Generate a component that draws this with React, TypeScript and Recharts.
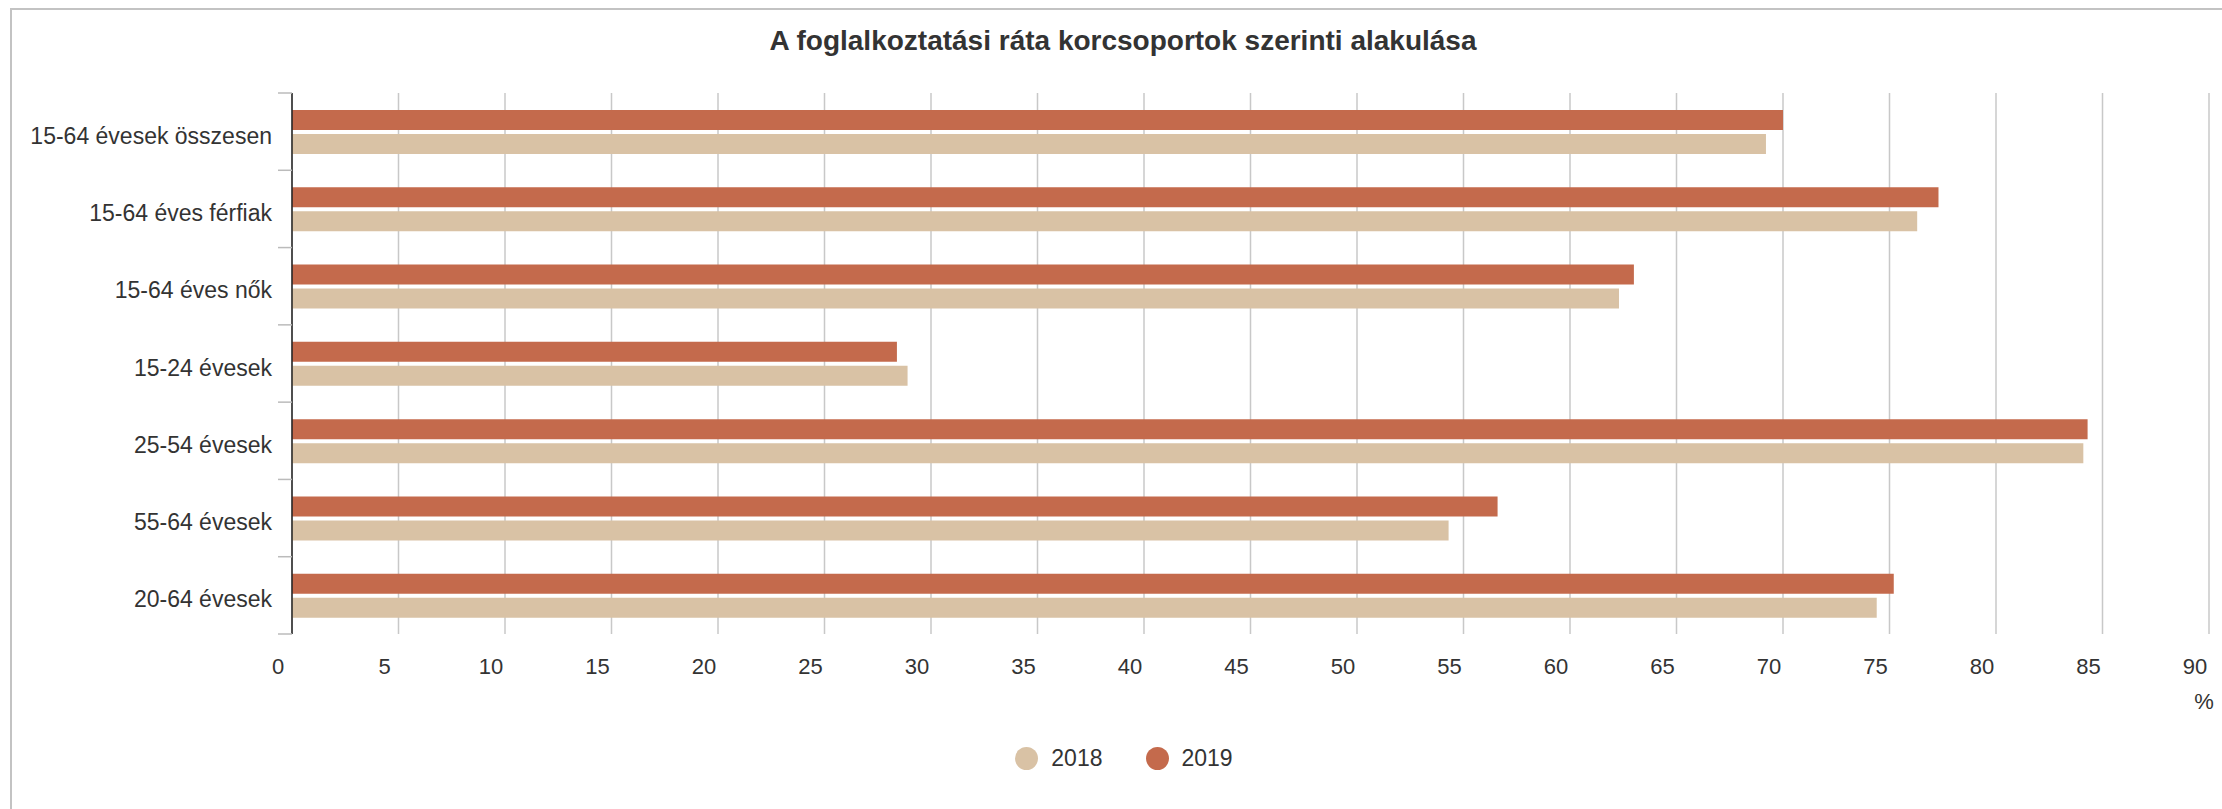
import { BarChart, Bar, XAxis, YAxis, CartesianGrid, Legend } from "recharts";

const categories = [
  "15-64 évesek összesen",
  "15-64 éves férfiak",
  "15-64 éves nők",
  "15-24 évesek",
  "25-54 évesek",
  "55-64 évesek",
  "20-64 évesek",
];
const values2018 = [69.2, 76.3, 62.3, 28.9, 84.1, 54.3, 74.4];
const values2019 = [70.0, 77.3, 63.0, 28.4, 84.3, 56.6, 75.2];
const xTicks = [0, 5, 10, 15, 20, 25, 30, 35, 40, 45, 50, 55, 60, 65, 70, 75, 80, 85, 90];

const title = "A foglalkoztatási ráta korcsoportok szerinti alakulása";
const unit = "%";

const data = categories.map((name, i) => ({
  name,
  y2018: values2018[i],
  y2019: values2019[i],
}));

const W = 2222;
const H = 809;
const MARGIN = { top: 93, right: 13, left: 0, bottom: 36 };
const Y_AXIS_W = 292;
const X_AXIS_H = 109;
const LEGEND_H = 30;
const PLOT_H = H - MARGIN.top - MARGIN.bottom - X_AXIS_H - LEGEND_H;
const BAND = PLOT_H / categories.length;

const TEXT = "#333";
const FONT = "'Liberation Sans', Arial, sans-serif";

function YTick(props: any) {
  const { x, y, payload, index } = props;
  const axisX = x + 20;
  return (
    <g>
      <line x1={axisX - 14} x2={axisX} y1={y - BAND / 2} y2={y - BAND / 2} stroke="#bbb" strokeWidth={1.5} />
      {index === categories.length - 1 && (
        <line x1={axisX - 14} x2={axisX} y1={y + BAND / 2} y2={y + BAND / 2} stroke="#bbb" strokeWidth={1.5} />
      )}
      <text x={x} y={y} dy={12} textAnchor="end" fill={TEXT} fontSize={23} fontFamily={FONT}>
        {payload.value}
      </text>
    </g>
  );
}

function LegendContent(props: any) {
  const items = [...(props.payload || [])].sort((a: any, b: any) =>
    String(a.value).localeCompare(String(b.value))
  );
  return (
    <div
      style={{
        display: "flex",
        justifyContent: "center",
        alignItems: "center",
        height: LEGEND_H,
        paddingLeft: 26,
        fontSize: 23,
        color: TEXT,
        fontFamily: FONT,
      }}
    >
      {items.map((it: any, i: number) => (
        <div key={it.value} style={{ display: "flex", alignItems: "center", marginRight: i < items.length - 1 ? 43 : 0 }}>
          <span
            style={{ width: 23, height: 23, borderRadius: "50%", background: it.color, display: "inline-block", marginRight: 13 }}
          />
          <span>{it.value}</span>
        </div>
      ))}
    </div>
  );
}

export default function App() {
  return (
    <div style={{ position: "fixed", left: 0, top: 0, width: W, height: H, overflow: "hidden", background: "#fff", fontFamily: FONT }}>
      <div
        style={{
          position: "absolute",
          left: 10,
          top: 8,
          width: W + 50,
          height: H + 50,
          borderTop: "2px solid #c3c3c3",
          borderLeft: "2px solid #c3c3c3",
        }}
      />
      <div
        style={{
          position: "absolute",
          left: 1123,
          top: 27,
          transform: "translateX(-50%)",
          whiteSpace: "nowrap",
          fontSize: 28,
          lineHeight: 1,
          fontWeight: "bold",
          color: TEXT,
        }}
      >
        {title}
      </div>
      <div style={{ position: "absolute", left: 0, top: 0 }}>
        <BarChart width={W} height={H} data={data} layout="vertical" margin={MARGIN} barSize={20} barGap={4}>
          <CartesianGrid horizontal={false} stroke="#c8c8c8" strokeWidth={1.5} />
          <XAxis
            type="number"
            domain={[0, 90]}
            ticks={xTicks}
            interval={0}
            height={X_AXIS_H}
            axisLine={false}
            tickLine={false}
            tickSize={0}
            tickMargin={24}
            tick={{ fill: TEXT, fontSize: 22, fontFamily: FONT, dx: -14 }}
            label={{
              content: (p: any) => {
                const vb = p.viewBox;
                return (
                  <text x={vb.x + vb.width - 5} y={vb.y + 75} textAnchor="middle" fill={TEXT} fontSize={22} fontFamily={FONT}>
                    {unit}
                  </text>
                );
              },
            }}
          />
          <YAxis
            type="category"
            dataKey="name"
            width={Y_AXIS_W}
            axisLine={{ stroke: "#222", strokeWidth: 1.5 }}
            tickLine={false}
            tickSize={0}
            tickMargin={20}
            interval={0}
            tick={<YTick />}
          />
          <Legend verticalAlign="bottom" content={<LegendContent />} wrapperStyle={{ left: 0, width: W }} />
          <Bar dataKey="y2019" name="2019" fill="#C46A4C" isAnimationActive={false} />
          <Bar dataKey="y2018" name="2018" fill="#D9C2A5" isAnimationActive={false} />
        </BarChart>
      </div>
    </div>
  );
}
